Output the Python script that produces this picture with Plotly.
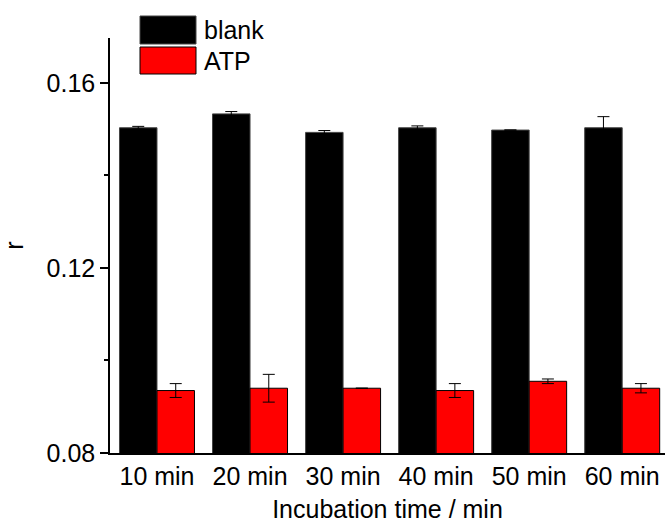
import plotly.graph_objects as go

# Incubation times and fluorescence anisotropy r (mean ± error; None = no error bar)
times = ["10 min", "20 min", "30 min", "40 min", "50 min", "60 min"]
blank_r = [0.1503, 0.1533, 0.1493, 0.1503, 0.1498, 0.1503]
blank_err = [0.0003, 0.0005, 0.0004, 0.0004, None, 0.0024]
atp_r = [0.0935, 0.0940, 0.0940, 0.0935, 0.0955, 0.0940]
atp_err = [0.0015, 0.0030, None, 0.0015, 0.0005, 0.0010]

FONT = "Liberation Sans, Arial, sans-serif"
W, H = 665, 525
ML, MR, MT, MB = 110, 0, 38, 72
PW, PH = W - ML - MR, H - MT - MB


def px(x):
    return (x - ML) / PW


def py(y):
    return (H - MB - y) / PH


fig = go.Figure()
fig.add_trace(go.Bar(
    x=times, y=blank_r, name="blank",
    marker=dict(color="black", line=dict(color="#444", width=1)),
    error_y=dict(type="data", array=blank_err, color="black", thickness=1, width=6),
    showlegend=False,
))
fig.add_trace(go.Bar(
    x=times, y=atp_r, name="ATP",
    marker=dict(color="#ff0000", line=dict(color="black", width=1)),
    error_y=dict(type="data", array=atp_err, color="black", thickness=1, width=6),
    showlegend=False,
))

# Legend drawn as swatches with labels
legend_items = [("blank", "black", "#444", 16, 44), ("ATP", "#ff0000", "black", 47, 74)]
for label, fill, edge, top, bottom in legend_items:
    fig.add_shape(type="rect", xref="paper", yref="paper",
                  x0=px(140), x1=px(196), y0=py(bottom), y1=py(top),
                  fillcolor=fill, line=dict(color=edge, width=1), layer="above")
    fig.add_annotation(text=label, xref="paper", yref="paper",
                       x=px(202), y=py((top + bottom) / 2), xanchor="left", yanchor="middle",
                       showarrow=False, font=dict(family=FONT, size=25, color="black"))

fig.update_layout(
    width=W, height=H,
    margin=dict(l=ML, r=MR, t=MT, b=MB),
    paper_bgcolor="white", plot_bgcolor="white",
    barmode="group", bargap=0.194, bargroupgap=0,
    font=dict(family=FONT, size=25, color="black"),
    xaxis=dict(
        type="category", range=[-0.505, 5.46],
        showline=True, linecolor="black", linewidth=1.5,
        ticks="", showgrid=False, zeroline=False,
        tickfont=dict(size=25),
        title=dict(text="Incubation time / min", font=dict(size=25), standoff=12),
    ),
    yaxis=dict(
        range=[0.08, 0.1697], tick0=0.08, dtick=0.04, tickformat=".2f",
        showline=True, linecolor="black", linewidth=1.5,
        ticks="outside", ticklen=8, tickwidth=1.5, tickcolor="black",
        minor=dict(dtick=0.02, tick0=0.08, ticks="outside", ticklen=4, tickwidth=1.5, tickcolor="black"),
        showgrid=False, zeroline=False,
        tickfont=dict(size=25),
        title=dict(text="r", font=dict(size=25), standoff=20),
    ),
)

fig.write_html("out.html")
